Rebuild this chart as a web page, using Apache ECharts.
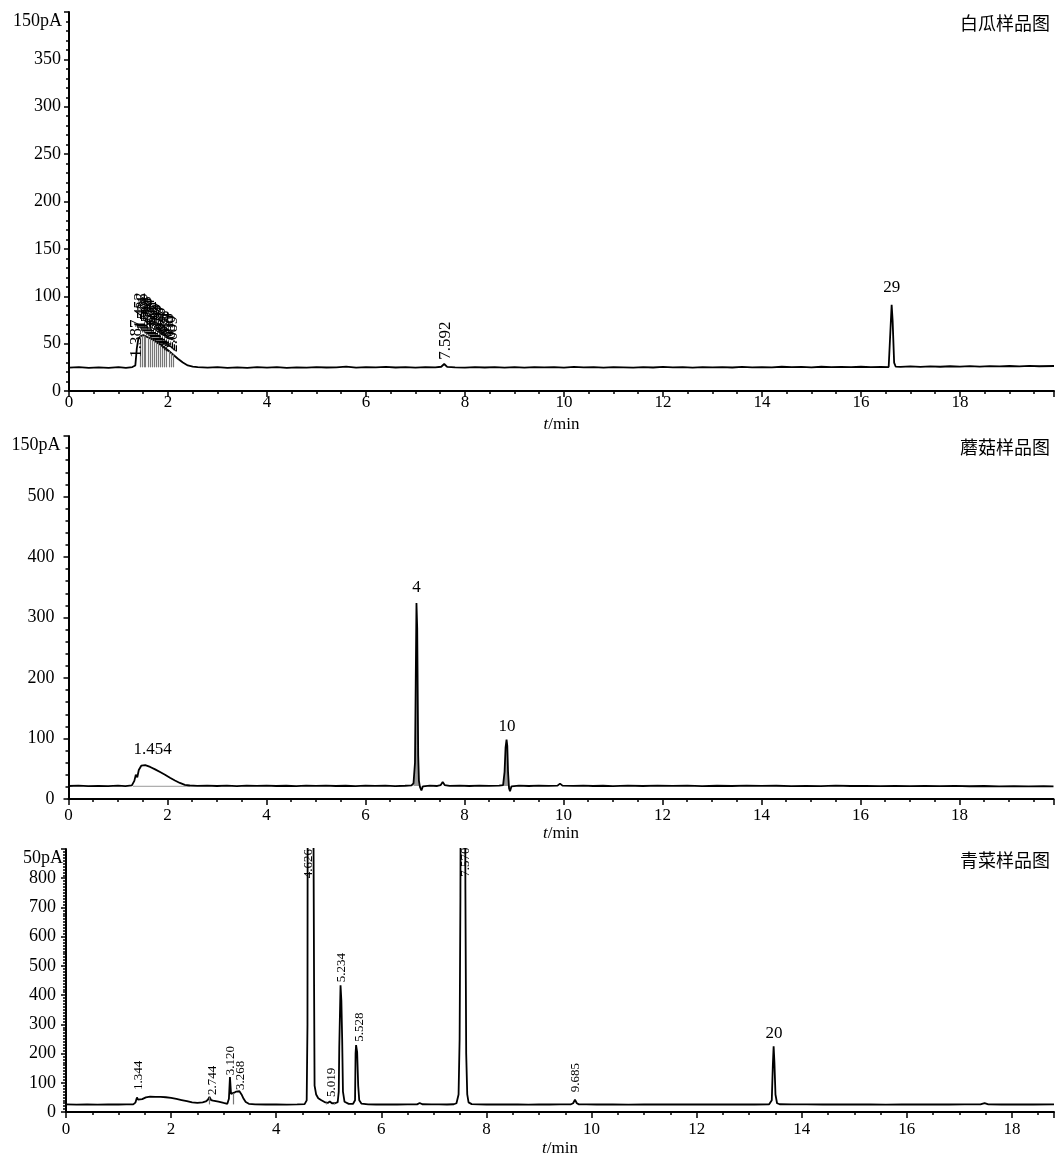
<!DOCTYPE html>
<html><head><meta charset="utf-8">
<script src="https://cdn.jsdelivr.net/npm/echarts@6/dist/echarts.min.js"></script>
<style>html,body{margin:0;padding:0;background:#fff}#c{width:1057px;height:1158px}</style>
</head><body><div id="c"></div><script>
// ---------- DATA ----------
const panelTitles = ['白瓜样品图', '蘑菇样品图', '青菜样品图'];
const yTopNames = ['150pA', '150pA', '50pA'];
const xMaxes = [19.9, 19.9, 18.8];
const yMaxes = [400, 600, 900];
const yIntervals = [50, 100, 100];
const yLabelCaps = [350, 500, 800];

// Panel 1 : 白瓜 [t(min), signal]
const gourdTrace = [[0,24.6],[0.2,25.1],[0.4,24.3],[0.6,24.9],[0.8,24.4],[1.0,25.2],[1.15,24.5],[1.28,25.3],[1.34,27],[1.37,45],[1.4,55],[1.45,58],[1.5,59],[1.6,56.5],[1.7,54],[1.8,50.5],[1.9,47],[2.0,43],[2.1,38.5],[2.2,34],[2.3,30],[2.4,27],[2.5,25.8],[2.6,25.2],[2.8,24.6],[3.0,25.3],[3.2,24.5],[3.4,25.0],[3.6,24.4],[3.8,25.2],[4.0,24.7],[4.2,25.1],[4.4,24.3],[4.6,25.0],[4.8,24.6],[5.0,25.3],[5.2,24.8],[5.4,25.0],[5.6,25.8],[5.8,24.7],[6.0,25.2],[6.2,24.9],[6.4,25.4],[6.6,24.8],[6.8,25.1],[7.0,24.6],[7.2,25.3],[7.4,24.9],[7.52,25.6],[7.58,28.5],[7.64,25.4],[7.8,25.0],[8.0,24.6],[8.2,25.3],[8.4,24.8],[8.6,25.2],[8.8,24.7],[9.0,25.1],[9.2,24.6],[9.4,25.3],[9.6,24.9],[9.8,25.2],[10.0,24.7],[10.2,25.4],[10.4,24.9],[10.6,25.1],[10.8,24.6],[11.0,25.3],[11.2,25.0],[11.4,24.7],[11.6,25.2],[11.8,24.8],[12.0,25.4],[12.2,24.9],[12.4,25.1],[12.6,24.7],[12.8,25.3],[13.0,24.9],[13.2,25.2],[13.4,24.8],[13.6,25.5],[13.8,25.0],[14.0,25.3],[14.2,24.9],[14.4,25.6],[14.6,25.1],[14.8,25.4],[15.0,25.0],[15.2,25.6],[15.4,25.2],[15.6,25.5],[15.8,25.1],[16.0,25.6],[16.2,25.2],[16.4,25.5],[16.56,25.3],[16.6,27],[16.62,91],[16.64,74],[16.655,73],[16.67,30],[16.7,25.8],[16.8,25.4],[17.0,25.9],[17.2,25.5],[17.4,26.0],[17.6,25.6],[17.8,26.1],[18.0,25.7],[18.2,26.2],[18.4,25.8],[18.6,26.3],[18.8,25.9],[19.0,26.4],[19.2,26.0],[19.4,26.5],[19.6,26.1],[19.9,26.4]];
const gourdDropTimes = [1.44,1.47,1.52,1.55,1.6,1.64,1.68,1.72,1.77,1.8,1.85,1.88,1.93,1.97,2.02,2.06,2.1];
const gourdDropTops  = [58,58.5,58.5,57.5,56.5,55.5,54.5,53.5,51.5,50.5,48.5,47.5,45.5,44,42,40,38.5];
const gourdDropBase = 25;
const gourdBlobNames = ['1.452','1.486','1.521','1.563','1.598','1.634','1.672','1.709','1.745','1.783','1.820','1.858','1.897','1.935','1.974','2.013','2.050','2.089'];
const gourdBlobTimes = [1.452,1.486,1.521,1.563,1.598,1.634,1.672,1.709,1.745,1.783,1.820,1.858,1.897,1.935,1.974,2.013,2.050,2.089];
const gourdBlobAnchors = [66,65,63,62,60,59,57,56,54,53,51,50,48,47,45,44,42,41];
const gourdRotNames = ['1.387','7.592'];
const gourdRotTimes = [1.37,7.6];
const gourdRotAnchors = [35,33];
const gourdPeakNames = ['29'];
const gourdPeakTimes = [16.62];
const gourdPeakAnchors = [100];

// Panel 2 : 蘑菇
const mushroomTrace = [[0,21.5],[0.2,22],[0.4,21.2],[0.6,21.8],[0.8,21.3],[1.0,22],[1.15,21.4],[1.28,22.5],[1.33,30],[1.36,40],[1.39,36],[1.42,48],[1.47,55],[1.55,56],[1.65,53],[1.75,49],[1.85,44.5],[1.95,40],[2.05,35],[2.15,30.5],[2.25,26.5],[2.35,23.5],[2.45,22.3],[2.6,21.8],[2.8,22.2],[3.0,21.5],[3.2,22],[3.4,21.4],[3.6,22.1],[3.8,21.6],[4.0,22.2],[4.2,21.5],[4.4,21.9],[4.6,21.4],[4.8,22],[5.0,21.6],[5.2,22.2],[5.4,21.5],[5.6,21.9],[5.8,21.3],[6.0,22],[6.2,21.6],[6.4,22.1],[6.6,21.4],[6.8,21.9],[6.93,22.5],[6.97,26],[7.0,60],[7.015,192],[7.03,324],[7.045,282],[7.055,280],[7.065,72],[7.08,30],[7.1,20],[7.13,14],[7.16,21],[7.3,22],[7.45,21.5],[7.52,23],[7.56,28],[7.6,23],[7.7,21.6],[7.9,22.1],[8.1,21.5],[8.3,22.2],[8.5,21.6],[8.7,22],[8.78,23],[8.81,45],[8.83,85],[8.85,98],[8.865,88],[8.88,45],[8.9,18],[8.92,13],[8.95,21],[9.1,22],[9.3,21.5],[9.5,22.1],[9.7,21.6],[9.88,22],[9.93,25.5],[9.98,22],[10.2,21.6],[10.4,22.1],[10.6,21.5],[10.8,21.9],[11.0,21.4],[11.3,22],[11.6,21.5],[11.9,22.1],[12.2,21.6],[12.5,22],[12.8,21.4],[13.1,21.9],[13.4,21.5],[13.7,22.1],[14.0,21.6],[14.3,21.9],[14.6,21.3],[14.9,21.8],[15.2,21.4],[15.5,22],[15.8,21.5],[16.1,21.8],[16.4,21.3],[16.7,21.7],[17.0,21.2],[17.3,21.7],[17.6,21.2],[17.9,21.6],[18.2,21.1],[18.5,21.5],[18.8,21],[19.1,21.4],[19.4,20.9],[19.7,21.3],[19.9,21]];
const mushroomFillRanges = [[6.95,7.14],[8.78,8.93]];
const mushroomFillBase = 21.5;
const mushroomHumpBase = [[1.3,21],[2.45,21]];
const mushroomPeakNames = ['1.454','4','10'];
const mushroomPeakTimes = [1.7,7.03,8.86];
const mushroomPeakAnchors = [68,336,106];

// Panel 3 : 青菜
const greensTrace = [[0,26],[0.2,25.4],[0.4,26.2],[0.6,25.5],[0.8,26.1],[1.0,25.6],[1.15,26.3],[1.28,26],[1.32,32],[1.35,50],[1.37,42],[1.4,37],[1.45,44],[1.52,50],[1.6,52.5],[1.7,52],[1.8,51.5],[1.9,50.5],[2.0,48.5],[2.1,45],[2.2,41],[2.3,37],[2.4,33],[2.5,31],[2.6,33],[2.66,36],[2.7,42],[2.73,52],[2.76,41],[2.8,39],[2.9,35.5],[3.0,31],[3.07,28],[3.1,45],[3.12,120],[3.14,62],[3.17,58],[3.2,66],[3.24,70],[3.27,65],[3.3,71],[3.34,60],[3.38,45],[3.42,34],[3.48,28],[3.6,26.3],[3.8,25.6],[4.0,26.2],[4.2,25.5],[4.4,26.1],[4.54,26.8],[4.58,40],[4.595,300],[4.6,1400],[4.7,1400],[4.72,450],[4.73,90],[4.76,60],[4.8,47],[4.86,40],[4.92,34],[4.98,31],[5.02,36],[5.06,30],[5.12,30],[5.17,34],[5.19,70],[5.2,223],[5.224,434],[5.24,380],[5.255,250],[5.27,70],[5.3,35],[5.38,28],[5.46,27.5],[5.5,40],[5.51,200],[5.52,229],[5.54,205],[5.56,90],[5.58,40],[5.62,29],[5.75,26.3],[5.9,25.7],[6.1,26.3],[6.3,25.6],[6.5,26.2],[6.68,26],[6.73,31],[6.78,26.5],[6.95,25.8],[7.1,26.3],[7.25,25.7],[7.38,26.5],[7.43,30],[7.47,60],[7.49,250],[7.505,736],[7.515,1400],[7.59,1400],[7.6,760],[7.615,200],[7.635,60],[7.66,33],[7.72,27],[7.85,26.2],[8.0,25.6],[8.2,26.3],[8.4,25.7],[8.6,26.2],[8.8,25.5],[9.0,26.1],[9.2,25.6],[9.4,26.3],[9.6,25.8],[9.65,30],[9.685,42],[9.72,30],[9.76,26],[9.9,26.2],[10.1,25.6],[10.4,26.2],[10.7,25.5],[11.0,26.1],[11.3,25.6],[11.6,26.2],[11.9,25.7],[12.2,26.3],[12.5,25.6],[12.8,26.1],[13.1,25.7],[13.38,26.2],[13.43,40],[13.45,160],[13.465,225],[13.48,170],[13.5,60],[13.53,30],[13.58,26.5],[13.8,25.8],[14.1,26.3],[14.4,25.6],[14.7,26.2],[15.0,25.7],[15.3,26.1],[15.6,25.5],[15.9,26.2],[16.2,25.7],[16.5,26.1],[16.8,25.6],[17.1,26.2],[17.4,26],[17.48,30.5],[17.55,26.2],[17.8,25.7],[18.1,26.2],[18.4,25.6],[18.8,26]];
const greensDropTimes = [2.72,3.19,4.96,5.1];
const greensDropTops = [50,64,32,30];
const greensDropBase = 26;
const greensRotNames = ['1.344','2.744','3.120','3.268','4.626','5.019','5.234','5.528','7.570','9.685'];
const greensRotTimes = [1.39,2.78,3.13,3.33,4.62,5.05,5.24,5.59,7.6,9.7];
const greensRotAnchors = [75,58,126,75,800,51,444,240,805,68];
const greensPeakNames = ['20'];
const greensPeakTimes = [13.47];
const greensPeakAnchors = [240];

// ---------- LAYOUT / STYLE ----------
const SERIF = '"Liberation Serif","DejaVu Serif",serif';
const CJK = '"Noto Sans CJK SC","Noto Sans CJK JP",sans-serif';
const grids = [
  {left: 69, top: 12, width: 985, height: 379},
  {left: 68.5, top: 436, width: 985, height: 363},
  {left: 66, top: 849, width: 991, height: 263}
];
const nameGaps = [25, 25, 28];
const xLabelMargin = [3, 8, 9];
const yNamePad = [7, 8, 3];
const yLabelMargin = [8, 14, 10];
const yMinorSplit = [5, 5, 10];
const titleTops = [14, 438, 851];

function xAxisCfg(i) {
  return {
    type: 'value', gridIndex: i, min: 0, max: xMaxes[i], interval: 2,
    axisLine: {onZero: false, lineStyle: {color: '#000', width: 2}},
    axisTick: {length: 6, lineStyle: {color: '#000', width: 1.5}},
    minorTick: {show: true, splitNumber: 4, length: 3, lineStyle: {color: '#000', width: 1.5}},
    splitLine: {show: false},
    axisLabel: {color: '#000', fontFamily: SERIF, fontSize: 17, margin: xLabelMargin[i],
      formatter: v => (Math.abs(v / 2 - Math.round(v / 2)) < 1e-6 ? String(Math.round(v)) : '')},
    name: '{i|t}/min', nameLocation: 'middle', nameGap: nameGaps[i],
    nameTextStyle: {color: '#000', fontFamily: SERIF, fontSize: 17,
      rich: {i: {fontStyle: 'italic', fontFamily: SERIF, fontSize: 17, color: '#000'}}}
  };
}
function yAxisCfg(i) {
  return {
    type: 'value', gridIndex: i, min: 0, max: yMaxes[i], interval: yIntervals[i],
    axisLine: {onZero: false, lineStyle: {color: '#000', width: 2}},
    axisTick: {length: 5, lineStyle: {color: '#000', width: 1.5}},
    minorTick: {show: true, splitNumber: yMinorSplit[i], length: 3, lineStyle: {color: '#000', width: 1.5}},
    splitLine: {show: false},
    axisLabel: {color: '#000', fontFamily: SERIF, fontSize: 18, margin: yLabelMargin[i],
      formatter: v => (v <= yLabelCaps[i] ? String(v) : '')},
    name: yTopNames[i], nameLocation: 'end', nameGap: -9,
    nameTextStyle: {color: '#000', fontFamily: SERIF, fontSize: 18, align: 'right',
      verticalAlign: 'middle', padding: [0, yNamePad[i], 0, 0]}
  };
}
function trace(i, data) {
  return {type: 'line', xAxisIndex: i, yAxisIndex: i, data, symbol: 'none', showSymbol: false,
    lineStyle: {color: '#000', width: 1.8}, clip: true, z: 4, silent: true};
}
function fill(i, data, range, base) {
  return {type: 'line', xAxisIndex: i, yAxisIndex: i, symbol: 'none', showSymbol: false,
    data: data.filter(p => p[0] >= range[0] && p[0] <= range[1]),
    lineStyle: {width: 0, color: '#999'}, areaStyle: {color: '#9a9a9a', opacity: 1, origin: base},
    clip: true, z: 2, silent: true};
}
function drops(i, times, tops, base) {
  return {type: 'line', xAxisIndex: i, yAxisIndex: i, data: [], symbol: 'none', silent: true,
    markLine: {symbol: ['none', 'none'], silent: true, animation: false, label: {show: false},
      lineStyle: {color: '#777', width: 1.2, type: 'solid'},
      data: times.map((t, k) => [{coord: [t, base]}, {coord: [t, tops[k]]}])}};
}
function hline(i, pts) {
  return {type: 'line', xAxisIndex: i, yAxisIndex: i, data: pts, symbol: 'none', silent: true,
    lineStyle: {color: '#999', width: 1}, z: 1};
}
function labels(i, names, times, anchors, rotated, size) {
  const base = {show: true, formatter: '{b}', position: 'top', distance: 0, color: '#000',
    opacity: 1, fontFamily: SERIF, fontSize: size};
  return {type: 'scatter', xAxisIndex: i, yAxisIndex: i, symbolSize: 0, clip: false, silent: true, z: 5,
    itemStyle: {opacity: 1, color: '#000'},
    data: names.map((n, k) => ({name: n, value: [times[k], anchors[k]]})),
    label: rotated ? Object.assign(base, {rotate: 90, align: 'left', verticalAlign: 'middle'}) : base
  };
}

const option = {
  animation: false,
  backgroundColor: '#fff',
  title: panelTitles.map((t, i) => ({text: t, right: 7, top: titleTops[i], padding: 0,
    textStyle: {color: '#000', fontFamily: CJK, fontSize: 18, fontWeight: 'normal'}})),
  grid: grids.map(g => Object.assign({containLabel: false}, g)),
  xAxis: [0, 1, 2].map(xAxisCfg),
  yAxis: [0, 1, 2].map(yAxisCfg),
  series: [
    drops(0, gourdDropTimes, gourdDropTops, gourdDropBase),
    trace(0, gourdTrace),
    labels(0, gourdBlobNames, gourdBlobTimes, gourdBlobAnchors, true, 16),
    labels(0, gourdRotNames, gourdRotTimes, gourdRotAnchors, true, 17),
    labels(0, gourdPeakNames, gourdPeakTimes, gourdPeakAnchors, false, 17),

    hline(1, mushroomHumpBase),
    fill(1, mushroomTrace, mushroomFillRanges[0], mushroomFillBase),
    fill(1, mushroomTrace, mushroomFillRanges[1], mushroomFillBase),
    trace(1, mushroomTrace),
    labels(1, mushroomPeakNames, mushroomPeakTimes, mushroomPeakAnchors, false, 17),

    drops(2, greensDropTimes, greensDropTops, greensDropBase),
    trace(2, greensTrace),
    labels(2, greensRotNames, greensRotTimes, greensRotAnchors, true, 13),
    labels(2, greensPeakNames, greensPeakTimes, greensPeakAnchors, false, 17)
  ]
};
const chart = echarts.init(document.getElementById('c'));
chart.setOption(option);
</script></body></html>
